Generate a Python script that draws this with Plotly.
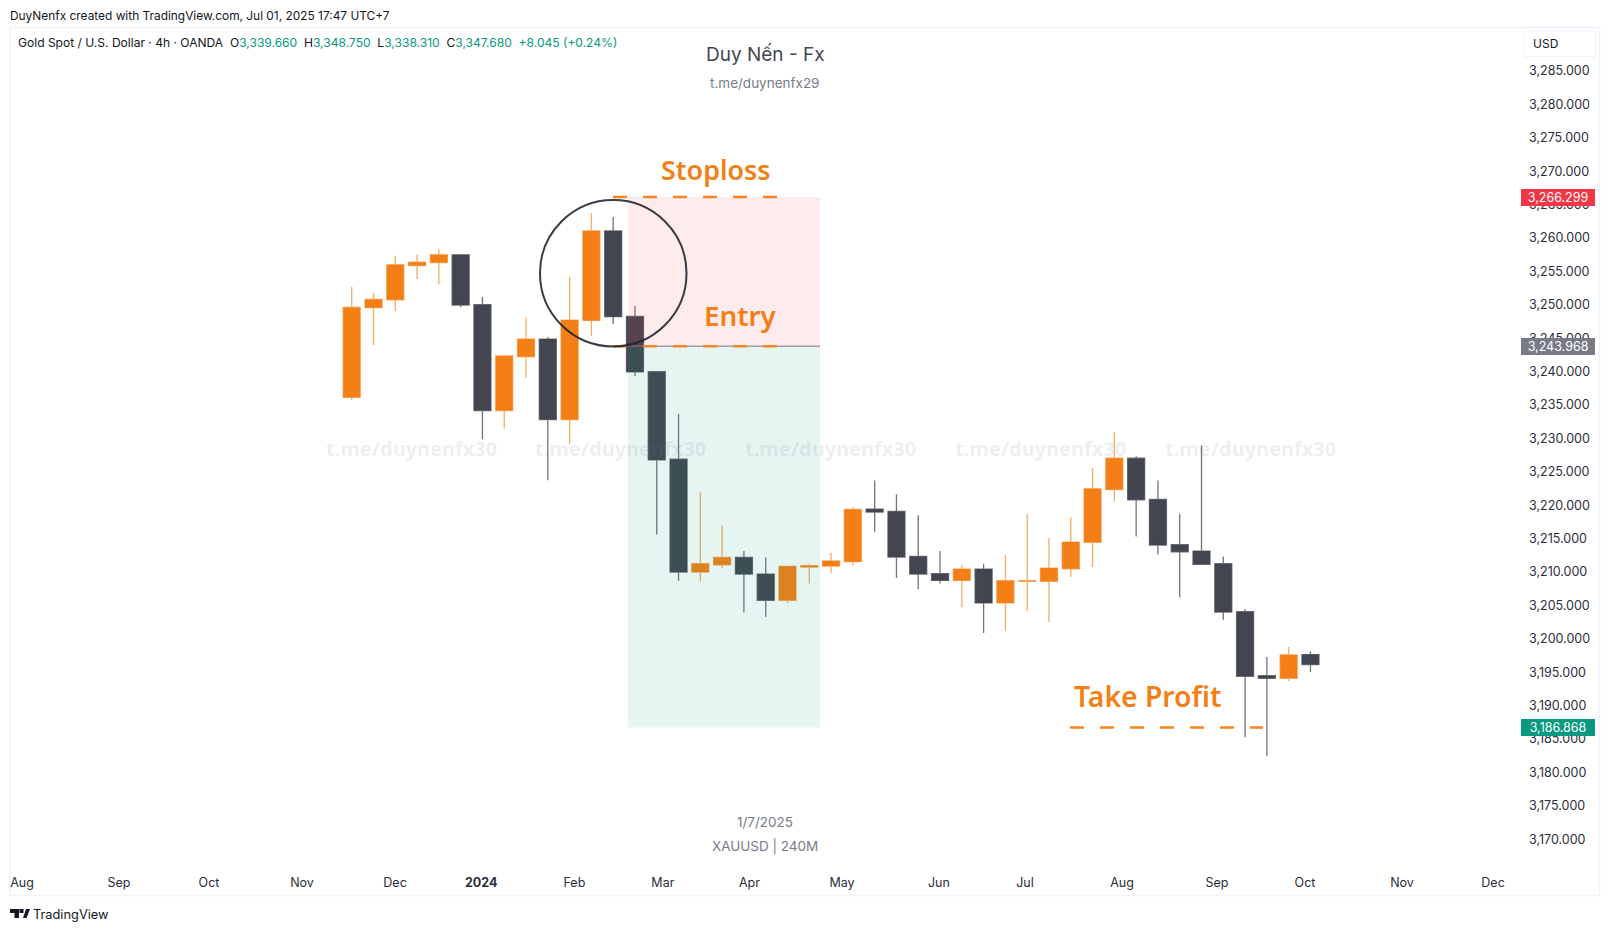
import plotly.graph_objects as go

# weekly-looking candles, one per bar
bar_index = list(range(45))
opens = [3236.17, 3249.58, 3250.77, 3255.90, 3256.35, 3257.49, 3250.02, 3234.18, 3242.25, 3244.89,
         3232.83, 3247.68, 3261.08, 3248.28, 3240.00, 3226.90, 3210.01, 3211.10, 3212.20, 3209.71,
         3205.77, 3210.76, 3210.91, 3211.56, 3219.43, 3219.08, 3212.35, 3209.76, 3208.76, 3210.46,
         3205.38, 3208.62, 3208.62, 3210.50, 3214.45, 3222.36, 3227.05, 3220.87, 3214.10, 3213.15,
         3211.26, 3204.08, 3194.50, 3194.11, 3197.65]
highs = [3252.71, 3251.82, 3257.35, 3257.60, 3258.40, 3257.49, 3251.20, 3242.50, 3248.13, 3245.24,
         3254.20, 3263.77, 3263.17, 3249.82, 3240.00, 3233.68, 3221.92, 3216.94, 3213.15, 3212.20,
         3210.86, 3211.26, 3212.86, 3219.68, 3223.71, 3221.67, 3218.52, 3213.15, 3211.11, 3211.26,
         3212.60, 3218.73, 3215.09, 3218.20, 3225.55, 3230.99, 3227.35, 3223.71, 3218.73, 3228.94,
         3212.35, 3204.48, 3197.30, 3198.80, 3198.10]
lows = [3235.77, 3244.00, 3249.07, 3253.86, 3253.06, 3249.63, 3229.90, 3231.50, 3239.15, 3223.74,
        3229.14, 3245.39, 3247.13, 3239.36, 3215.64, 3208.72, 3208.62, 3210.60, 3203.97, 3203.33,
        3205.37, 3208.31, 3209.81, 3211.00, 3216.03, 3209.10, 3207.42, 3208.31, 3204.78, 3200.89,
        3201.19, 3204.13, 3202.54, 3209.25, 3210.75, 3220.62, 3215.34, 3212.65, 3206.18, 3211.16,
        3202.88, 3185.23, 3182.45, 3193.71, 3195.05]
closes = [3249.62, 3250.82, 3256.00, 3256.40, 3257.49, 3249.97, 3234.18, 3242.35, 3244.89, 3232.83,
          3247.73, 3261.08, 3248.23, 3239.96, 3226.80, 3210.01, 3211.26, 3212.20, 3209.71, 3205.77,
          3210.86, 3210.96, 3211.66, 3219.38, 3218.98, 3212.25, 3209.71, 3208.76, 3210.46, 3205.38,
          3208.72, 3208.72, 3210.61, 3214.50, 3222.46, 3227.05, 3220.82, 3214.05, 3213.05, 3211.16,
          3204.03, 3194.41, 3194.11, 3197.60, 3196.15]

month_labels = ['Aug', 'Sep', 'Oct', 'Nov', 'Dec', '<b>2024</b>', 'Feb', 'Mar', 'Apr', 'May', 'Jun',
                'Jul', 'Aug', 'Sep', 'Oct', 'Nov', 'Dec']
month_ticks = [-15.13, -10.68, -6.55, -2.28, 1.99, 5.94, 10.22, 14.28, 18.25, 22.50, 26.95, 30.90,
               35.35, 39.71, 43.75, 48.20, 52.38]
price_ticks = [3170, 3175, 3180, 3185, 3190, 3195, 3200, 3205, 3210, 3215, 3220, 3225, 3230, 3235,
               3240, 3245, 3250, 3255, 3260, 3265, 3270, 3275, 3280, 3285]
price_labels = [f'{p:,.3f}' for p in price_ticks]

# labelled levels, and where the boxes actually draw them
stop_price, stop_label = 3266.15, '3,266.299'
entry_price, entry_label = 3243.82, '3,243.968'
target_price, target_label = 3186.72, '3,186.868'

ORANGE = '#F57F17'
DARK = '#434651'
FONT = 'Inter'

W, H = 1610, 931
PLOT_L, PLOT_R, PLOT_T, PLOT_B = 10, 1522, 28, 860


def px(v):
    return (v - PLOT_L) / (PLOT_R - PLOT_L)


def py(v):
    return (PLOT_B - v) / (PLOT_B - PLOT_T)


def bar_x(v):
    return (v - 351.7) / 21.79


def price_y(v):
    return 3240 + (371.7 - v) / 6.68


fig = go.Figure()
fig.add_trace(go.Candlestick(
    x=bar_index, open=opens, high=highs, low=lows, close=closes,
    increasing=dict(line=dict(color='rgba(245,127,23,0.65)', width=1.3), fillcolor=ORANGE),
    decreasing=dict(line=dict(color='rgba(67,70,81,0.75)', width=1.3), fillcolor=DARK),
    whiskerwidth=0,
))

shapes = []
# position boxes sit over the candles
box_l, box_r = bar_x(628), bar_x(820)
shapes.append(dict(type='rect', x0=box_l, x1=box_r, y0=entry_price, y1=stop_price,
                   fillcolor='rgba(242,54,69,0.1)', line_width=0))
shapes.append(dict(type='rect', x0=box_l, x1=box_r, y0=target_price, y1=entry_price,
                   fillcolor='rgba(8,153,129,0.1)', line_width=0))
shapes.append(dict(type='line', x0=box_l, x1=box_r, y0=entry_price, y1=entry_price,
                   line=dict(color='#787B86', width=1)))
for x0, x1, level in [(613, 777, stop_price), (613, 777, entry_price), (1070, 1263, target_price)]:
    shapes.append(dict(type='line', x0=bar_x(x0), x1=bar_x(x1), y0=level, y1=level,
                       line=dict(color='#F68420', width=2.5, dash='14px,16px')))
shapes.append(dict(type='circle', x0=bar_x(540), x1=bar_x(686.5), y0=price_y(346.5), y1=price_y(200),
                   line=dict(color='rgba(30,34,45,0.88)', width=2)))

# frame, USD box and the logo are page furniture
shapes.append(dict(type='rect', xref='paper', yref='paper', x0=px(10), x1=px(1599.5), y0=py(895.5), y1=py(27.5),
                   line=dict(color='#F0F3FA', width=1.5), layer='below'))
shapes.append(dict(type='rect', xref='paper', yref='paper', x0=px(1524), x1=px(1596), y0=py(56.5), y1=py(31),
                   line=dict(color='#F0F3FA', width=1)))


def paper_path(points):
    return 'M' + ' L'.join(f'{px(a)},{py(b)}' for a, b in points) + ' Z'


for pts in [[(10, 909), (19, 909), (19, 918), (14.5, 918), (14.5, 913), (10, 913)],
            [(19.5, 909), (23.5, 909), (23.5, 913), (19.5, 913)],
            [(23, 918), (26, 909), (30, 909), (26.5, 918)]]:
    shapes.append(dict(type='path', xref='paper', yref='paper', path=paper_path(pts),
                       fillcolor='#131722', line_width=0))

notes = []


def note(text, x, y, size, color, anchor='center', **kw):
    notes.append(dict(text=text, xref='paper', yref='paper', x=px(x), y=py(y), xanchor=anchor, yanchor='middle',
                      showarrow=False, font=dict(size=size, color=color, family=kw.pop('family', FONT),
                                                 weight=kw.pop('weight', 400)), **kw))


note('DuyNenfx created with TradingView.com, Jul 01, 2025 17:47 UTC+7', 8, 15.5, 11.9, '#131722', anchor='left')
GREEN = "<span style='color:#089981'>%s</span>"
legend = ('Gold Spot / U.S. Dollar · 4h · OANDA  O' + GREEN % '3,339.660' + '  H' + GREEN % '3,348.750'
          + '  L' + GREEN % '3,338.310' + '  C' + GREEN % '3,347.680' + '  ' + GREEN % '+8.045 (+0.24%)')
note(legend, 16, 43, 12.05, '#131722', anchor='left')

note('Duy Nến - Fx', 765, 54.5, 19, '#434651')
note('t.me/duynenfx29', 765, 83, 13.5, '#787B86')
note('1/7/2025', 765, 822, 13.5, '#787B86')
note('XAUUSD | 240M', 765, 846, 13.5, '#787B86')

for cx in [411, 620, 830, 1040, 1250]:
    note('t.me/duynenfx30', cx, 448, 20, 'rgba(120,123,134,0.13)', family='Noto Sans', weight=700)

note('Stoploss', 715.5, 169, 26.8, ORANGE, family='Noto Sans', weight=600)
note('Entry', 740.5, 315, 27.8, ORANGE, family='Noto Sans', weight=600)
note('Take Profit', 1148, 696, 28.3, ORANGE, family='Noto Sans', weight=600)

note('USD', 1531, 43.5, 12, '#131722', anchor='left')
note('TradingView', 31, 914, 12.8, '#131722', anchor='left')

for level, label, color in [(stop_price, stop_label, '#F23645'), (entry_price, entry_label, '#787B86'),
                            (target_price, target_label, '#089981')]:
    notes.append(dict(text=label, xref='paper', yref='y', x=px(1558), y=level, xanchor='center',
                      yanchor='middle', showarrow=False, width=74, height=17, bgcolor=color,
                      borderwidth=0, borderpad=0, font=dict(size=12.5, color='white', family=FONT)))

fig.update_layout(
    width=W, height=H, autosize=False,
    margin=dict(l=PLOT_L, r=W - PLOT_R, t=PLOT_T, b=H - PLOT_B, pad=0),
    paper_bgcolor='white', plot_bgcolor='white',
    showlegend=False, boxgap=0.22, boxgroupgap=0,
    font=dict(family=FONT, size=12.5, color='#131722'),
    shapes=shapes, annotations=notes,
    xaxis=dict(range=[bar_x(PLOT_L), bar_x(PLOT_R)], tickmode='array', tickvals=month_ticks, ticktext=month_labels,
               showgrid=False, zeroline=False, showline=False, ticks='', rangeslider=dict(visible=False),
               tickfont=dict(size=12.5, color='#2A2E39'), tickangle=0, ticklabelstandoff=13),
    yaxis=dict(range=[price_y(PLOT_B), price_y(PLOT_T)], side='right', tickmode='array', tickvals=price_ticks,
               ticktext=price_labels, showgrid=False, zeroline=False, showline=False, ticks='',
               tickfont=dict(size=12.5, color='#2A2E39'), ticklabelstandoff=6),
)

fig.write_html('out.html', config=dict(displayModeBar=False), post_script="document.body.style.margin='0';")
